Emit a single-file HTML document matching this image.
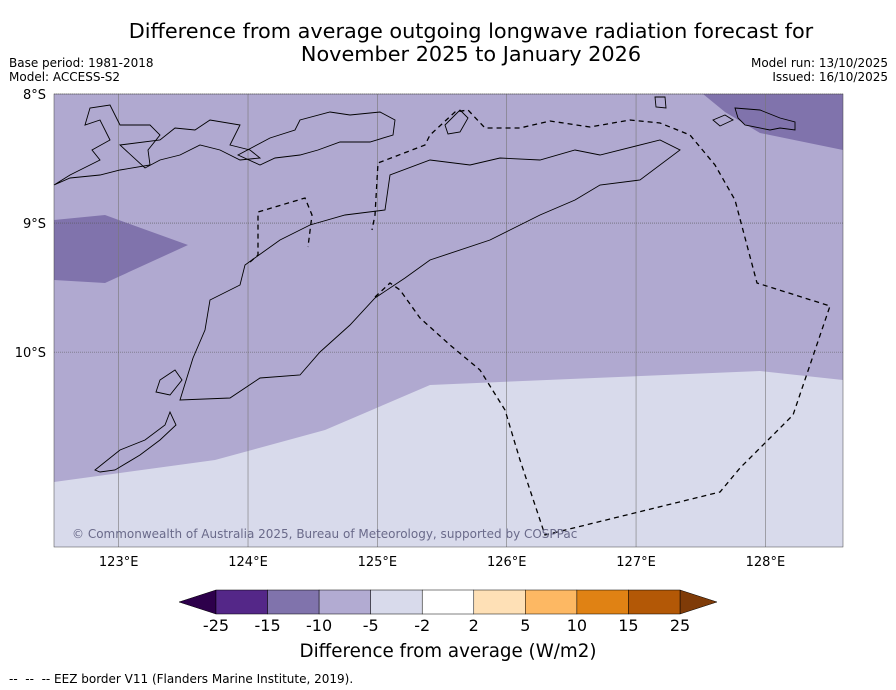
<!DOCTYPE html>
<html><head><meta charset="utf-8"><style>
body{margin:0;background:#fff;font-family:"Liberation Sans","DejaVu Sans",sans-serif}
#wrap{position:relative;width:896px;height:690px;overflow:hidden}
.t{position:absolute;white-space:nowrap}
</style></head><body>
<div id="wrap">
<div class="t" style="left:0;width:942px;top:20px;text-align:center;font-size:20.8px;line-height:23px;font-family:'DejaVu Sans',sans-serif">Difference from average outgoing longwave radiation forecast for<br>November 2025 to January 2026</div>
<div class="t" style="left:9px;top:56px;font-size:12px;line-height:14px;font-family:'DejaVu Sans',sans-serif">Base period: 1981-2018<br>Model: ACCESS-S2</div>
<div class="t" style="right:8px;top:56px;font-size:12px;line-height:14px;text-align:right;font-family:'DejaVu Sans',sans-serif">Model run: 13/10/2025<br>Issued: 16/10/2025</div>
<div class="t" style="left:9px;top:672px;font-size:12px;font-family:'DejaVu Sans',sans-serif;white-space:pre">--  --  -- EEZ border V11 (Flanders Marine Institute, 2019).</div>
<svg id="svg" width="896" height="690" style="position:absolute;left:0;top:0" font-family="DejaVu Sans, sans-serif"></svg>
</div>
<script>
const lonTicks=[123,124,125,126,127,128];
const latTicks=[8,9,10];
const cbTicks=["-25","-15","-10","-5","-2","2","5","10","15","25"];
const cbColors=["#542788","#8073ac","#b2abd2","#d8daeb","#ffffff","#fee0b6","#fdb863","#e08214","#b35806"];
const lonMin=122.5,lonMax=128.6,latMin=8,latMax=11.51;
const L=54,R=843,T=94,B=547;
const x=lon=>L+(lon-lonMin)/(lonMax-lonMin)*(R-L);
const y=lat=>T+(lat-latMin)/(latMax-latMin)*(B-T);
const S=document.getElementById('svg');const NS="http://www.w3.org/2000/svg";
function mk(t,a,p){const e=document.createElementNS(NS,t);for(const k in a)e.setAttribute(k,a[k]);(p||S).appendChild(e);return e;}
function poly(pts,fill,name,extra){const e=mk('polygon',Object.assign({points:pts,fill:fill},extra||{}));

return e;}
let bg=mk('rect',{x:L,y:T,width:R-L,height:B-T,fill:"#b0a9d0"});


poly("54,482 215,460 325,430 430,385 500,382 760,371 843,380 843,547 54,547","#d8daeb","anomaly-region-light");
poly("54,220 105,215 188,245 105,283 54,280","#8073ac","anomaly-region-dark-west");
poly("703,94 843,94 843,150 760,133 725,112","#8073ac","anomaly-region-dark-northeast");
lonTicks.forEach(v=>{const l=mk('line',{x1:x(v),x2:x(v),y1:T,y2:B,stroke:"#777",'stroke-width':0.6});


const t=mk('text',{x:x(v),y:566,'text-anchor':'middle','font-size':13});t.textContent=v+"°E";

});
latTicks.forEach(v=>{const l=mk('line',{x1:L,x2:R,y1:y(v),y2:y(v),stroke:"#555",'stroke-width':0.6,'stroke-dasharray':'1,1'});


const t=mk('text',{x:46,y:y(v)+5,'text-anchor':'end','font-size':13});t.textContent=v+"°S";

});
const cs={fill:"none",stroke:"#000",'stroke-width':0.9};
poly("193,358 205,330 210,300 240,285 245,265 280,240 310,225 345,215 385,210 390,175 430,160 470,165 500,158 540,160 575,150 600,155 660,140 680,150 640,180 600,185 575,200 540,215 510,230 490,240 430,260 405,278 375,298 350,325 320,352 300,375 260,378 230,398 180,400","none","timor-coast",cs);
poly("54,185 70,175 100,160 92,150 110,140 100,120 85,125 90,108 110,105 120,125 150,125 160,135 148,150 150,165 120,170 100,175 70,178","none","flores-coast",cs);
poly("120,145 160,140 175,128 195,130 210,120 240,125 230,145 250,150 260,158 240,160 220,150 200,145 180,155 160,160 145,168","none","alor-coast",cs);
poly("238,155 270,138 295,130 300,120 330,112 350,115 380,112 395,120 393,135 370,142 340,142 318,150 300,155 275,158 260,165","none","wetar-coast",cs);
poly("735,108 760,110 780,118 795,122 795,130 780,128 770,130 745,125 738,118","none","island-east",cs);
poly("655,97 665,97 666,108 656,107","none","island-small",cs);
poly("713,120 725,115 733,120 720,126","none","island-small-2",cs);
poly("445,125 460,110 468,118 460,132 448,134","none","island-atauro",cs);
poly("160,380 175,370 182,380 170,395 156,392","none","island-sw-1",cs);
poly("95,470 120,450 145,440 165,425 170,412 176,425 160,440 140,455 115,470 100,472","none","sumba-coast",cs);
const ds={fill:"none",stroke:"#000",'stroke-width':1.3,'stroke-dasharray':'5,4'};
let e1=mk('polyline',Object.assign({points:"250,262 258,255 258,212 305,198 312,215 308,247"},ds));


let e2=mk('polyline',Object.assign({points:"375,297 390,283 400,290 420,318 450,345 480,370 505,410 520,460 545,535 720,492 740,468 793,415 830,306 757,283 735,200 715,165 690,135 660,123 630,120 590,127 550,121 520,128 485,128 468,110 455,112 430,135 425,145 378,163 375,215 372,230"},ds));


let fr=mk('rect',{x:L,y:T,width:R-L,height:B-T,fill:"none",stroke:"#444",'stroke-width':0.5});


let cp=mk('text',{x:72,y:538,'font-size':12,fill:"#6a6a8a"});cp.textContent="© Commonwealth of Australia 2025, Bureau of Meteorology, supported by COSPPac";


const cbL=216,cbR=680,cbT=590,cbB=614,w=(cbR-cbL)/cbColors.length;
let a1=mk('polygon',{points:`${cbL},${cbT} 179,602 ${cbL},${cbB}`,fill:"#2d004b",stroke:"#000",'stroke-width':0.5});


let a2=mk('polygon',{points:`${cbR},${cbT} 717,602 ${cbR},${cbB}`,fill:"#7f3b08",stroke:"#000",'stroke-width':0.5});


cbColors.forEach((c,i)=>{const r=mk('rect',{x:cbL+i*w,y:cbT,width:w,height:cbB-cbT,fill:c,stroke:"#000",'stroke-width':0.5});

});
cbTicks.forEach((s,i)=>{const t=mk('text',{x:cbL+i*w,y:631,'text-anchor':'middle','font-size':16});t.textContent=s;

});
let ct=mk('text',{x:448,y:657,'text-anchor':'middle','font-size':18.3});ct.textContent="Difference from average (W/m2)";


</script>
</body></html>
